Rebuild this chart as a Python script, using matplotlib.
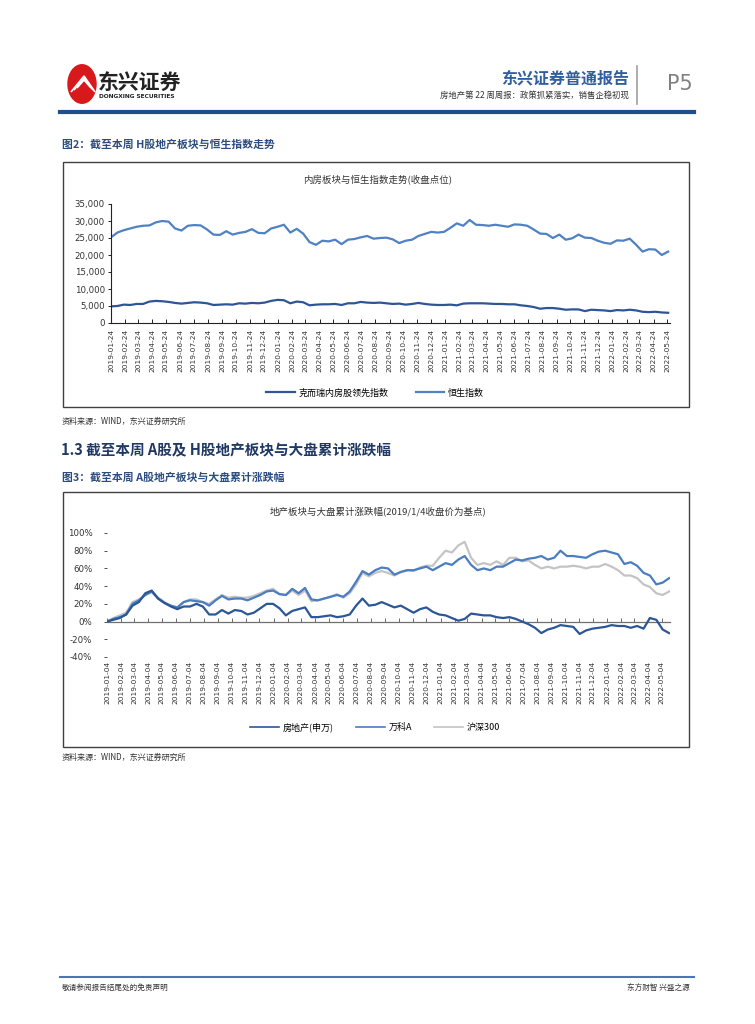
import matplotlib
matplotlib.use('Agg')
import matplotlib.pyplot as plt
import pandas as pd
import numpy as np
from matplotlib.patches import Rectangle, Circle, Polygon
from matplotlib.lines import Line2D

plt.rcParams['font.family'] = ['Noto Sans CJK SC', 'DejaVu Sans']
plt.rcParams['axes.unicode_minus'] = False

# ---------------- data ----------------
# Chart 1: biweekly closing levels from 2019-01-24
hsi = [25200, 26600, 27300, 27800, 28300, 28600, 28700, 29600, 30000, 29800,
       27800, 27200, 28600, 28800, 28700, 27500, 26000, 25900, 27000, 26000,
       26500, 26800, 27600, 26500, 26400, 27800, 28300, 28900, 26600, 27700,
       26300, 23800, 23000, 24200, 24000, 24500, 23200, 24500, 24700, 25200,
       25600, 24800, 25000, 25100, 24600, 23500, 24200, 24500, 25600, 26200,
       26800, 26600, 26800, 28000, 29300, 28600, 30300, 28900, 28800, 28600,
       28900, 28600, 28300, 29000, 28900, 28600, 27500, 26300, 26200, 25000,
       26000, 24500, 24900, 26000, 25100, 25000, 24200, 23600, 23300, 24300,
       24200, 24800, 23000, 21000, 21700, 21600, 20000, 21000]
cric = [4900, 5000, 5400, 5300, 5600, 5600, 6300, 6500, 6400, 6200,
        5900, 5700, 5900, 6100, 6000, 5800, 5300, 5400, 5500, 5400,
        5800, 5700, 5900, 5800, 6000, 6500, 6800, 6700, 5800, 6300,
        6100, 5200, 5400, 5500, 5500, 5600, 5300, 5800, 5800, 6200,
        6000, 5900, 6000, 5800, 5600, 5700, 5400, 5600, 5900, 5600,
        5400, 5300, 5300, 5400, 5200, 5700, 5800, 5800, 5800, 5700,
        5600, 5600, 5500, 5500, 5200, 5000, 4700, 4200, 4400, 4400,
        4200, 3900, 4000, 4000, 3500, 3900, 3800, 3700, 3500, 3800,
        3700, 3900, 3700, 3300, 3200, 3300, 3100, 3000]
c1_dates = pd.date_range('2019-01-24', periods=len(hsi), freq='14D')
c1_ticks = pd.date_range('2019-01-01', '2022-05-01', freq='MS') + pd.Timedelta(days=23)
c1_labels = [d.strftime('%Y-%m-%d') for d in c1_ticks]
c1_names = ['克而瑞内房股领先指数', '恒生指数']

# Chart 2: cumulative change (%) vs 2019-01-04 close, biweekly
prop = [0, 2, 4, 8, 18, 22, 32, 35, 26, 21, 17, 14, 17, 17, 20, 17, 8, 8, 13, 9,
        13, 12, 8, 10, 15, 20, 20, 15, 7, 12, 14, 16, 5, 5, 6, 7, 5, 6, 8, 18,
        26, 18, 19, 22, 19, 16, 18, 14, 10, 14, 16, 11, 8, 7, 4, 1, 3, 9, 8, 7,
        7, 5, 4, 5, 3, 0, -3, -7, -13, -9, -7, -4, -5, -6, -14, -10, -8, -7, -6, -4,
        -5, -5, -7, -5, -8, 4, 2, -9, -13]
vanke = [0, 3, 5, 8, 20, 24, 30, 34, 26, 21, 18, 16, 22, 24, 23, 22, 18, 24, 29, 25,
         26, 26, 24, 27, 30, 34, 35, 31, 30, 37, 32, 38, 25, 24, 26, 28, 30, 28, 34, 45,
         57, 53, 58, 61, 60, 53, 56, 58, 58, 60, 62, 58, 62, 66, 64, 70, 74, 64, 58, 60,
         58, 62, 62, 66, 70, 69, 71, 72, 74, 70, 72, 80, 74, 74, 73, 72, 76, 79, 80, 78,
         76, 65, 67, 63, 55, 52, 42, 44, 49]
hs300 = [0, 4, 7, 10, 22, 25, 30, 33, 27, 22, 18, 15, 22, 25, 25, 22, 20, 25, 30, 27,
         28, 27, 27, 29, 32, 35, 37, 31, 30, 35, 30, 35, 23, 24, 26, 28, 31, 27, 32, 42,
         55, 51, 55, 57, 55, 52, 56, 58, 57, 61, 63, 63, 72, 80, 78, 86, 90, 72, 64, 66,
         64, 68, 64, 72, 72, 68, 69, 64, 60, 62, 60, 62, 62, 63, 62, 60, 62, 62, 65, 62,
         58, 52, 52, 49, 42, 39, 32, 30, 34]
c2_dates = pd.date_range('2019-01-04', periods=len(prop), freq='14D')
c2_ticks = pd.date_range('2019-01-01', '2022-05-01', freq='MS') + pd.Timedelta(days=3)
c2_labels = [d.strftime('%Y-%m-%d') for d in c2_ticks]
c2_names = ['房地产(申万)', '万科A', '沪深300']

# ---------------- layout helpers ----------------
W, H = 755, 1024
fig = plt.figure(figsize=(7.55, 10.24), dpi=100)


def fx(x):
    return x / W


def fy(y):
    return 1 - y / H


def rect(l, t, r, b):
    return [fx(l), fy(b), (r - l) / W, (b - t) / H]


NAVY = '#2B4C7E'

# ---------------- header ----------------
fig.patches.append(Circle((fx(82), fy(84)), 0.0195, transform=fig.transFigure,
                          facecolor='#D7191C', edgecolor='none'))
for k in range(3):
    fig.patches.append(Polygon([(fx(71 + 3 * k), fy(92 - 2 * k)), (fx(84), fy(76 + k * 2)),
                                (fx(95 - 2 * k), fy(92 - 2 * k))], closed=False, fill=False,
                               edgecolor='white', linewidth=1.2, transform=fig.transFigure))
fig.text(fx(98), fy(82), '东兴证券', fontsize=15, fontweight='bold', color='#222222',
         va='center', ha='left')
fig.text(fx(99), fy(96), 'DONGXING SECURITIES', fontsize=4.2, fontweight='bold',
         color='#222222', va='center', ha='left', family='DejaVu Sans')
fig.text(fx(629), fy(78), '东兴证券普通报告', fontsize=11.5, fontweight='bold',
         color='#2F5F9E', va='center', ha='right')
fig.text(fx(629), fy(95), '房地产第 22 周周报：政策抓紧落实，销售企稳初现', fontsize=6,
         color='#333333', va='center', ha='right')
fig.lines.append(Line2D([fx(637), fx(637)], [fy(66), fy(104)], transform=fig.transFigure,
                        color='#A0A0A0', linewidth=1.2))
fig.text(fx(680), fy(84), 'P5', fontsize=15, color='#808080', va='center', ha='center',
         family='DejaVu Sans')
fig.lines.append(Line2D([fx(60), fx(694)], [fy(112), fy(112)], transform=fig.transFigure,
                        color='#1F4E8C', linewidth=3))

# ---------------- captions ----------------
fig.text(fx(62), fy(145), '图2：截至本周 H股地产板块与恒生指数走势', fontsize=7.8,
         fontweight='bold', color=NAVY, va='center', ha='left')
fig.text(fx(62), fy(421), '资料来源：WIND，东兴证券研究所', fontsize=5.8, style='italic',
         color='#333333', va='center', ha='left')
fig.text(fx(61), fy(450), '1.3 截至本周 A股及 H股地产板块与大盘累计涨跌幅', fontsize=10.5,
         fontweight='bold', color='#1F3864', va='center', ha='left')
fig.text(fx(62), fy(478), '图3：截至本周 A股地产板块与大盘累计涨跌幅', fontsize=7.8,
         fontweight='bold', color=NAVY, va='center', ha='left')
fig.text(fx(62), fy(757), '资料来源：WIND，东兴证券研究所', fontsize=5.8, style='italic',
         color='#333333', va='center', ha='left')

# ---------------- chart boxes ----------------
for (l, t, r, b) in [(63, 162, 689, 407), (63, 492, 689, 747)]:
    fig.patches.append(Rectangle((fx(l), fy(b)), (r - l) / W, (b - t) / H,
                                 transform=fig.transFigure, fill=False,
                                 edgecolor='#404040', linewidth=1.0))

# ---------------- chart 1 ----------------
ax1 = fig.add_axes(rect(111, 204, 670, 323))
ax1.plot(c1_dates, cric, color='#2F5597', linewidth=1.6, label=c1_names[0])
ax1.plot(c1_dates, hsi, color='#4F81C4', linewidth=1.6, label=c1_names[1])
ax1.set_ylim(0, 35000)
ax1.set_yticks(np.arange(0, 35001, 5000))
ax1.set_yticklabels([f'{v:,}' for v in range(0, 35001, 5000)], fontsize=6.2,
                    family='DejaVu Sans', color='#333333')
ax1.set_xlim(c1_dates[0], c1_dates[-1] + pd.Timedelta(days=4))
ax1.set_xticks(c1_ticks)
ax1.set_xticklabels(c1_labels, rotation=90, fontsize=5.3, family='DejaVu Sans',
                    color='#333333')
ax1.tick_params(axis='x', direction='in', length=3, width=0.6, pad=4)
ax1.tick_params(axis='y', direction='out', length=2.5, width=0.6, pad=2)
for s in ['top', 'right']:
    ax1.spines[s].set_visible(False)
for s in ['left', 'bottom']:
    ax1.spines[s].set_linewidth(0.8)
    ax1.spines[s].set_color('#222222')
fig.text(fx(378), fy(180), '内房板块与恒生指数走势(收盘点位)', fontsize=6.8,
         color='#333333', va='center', ha='center')
fig.legend(handles=ax1.get_lines(), labels=c1_names, loc='center', ncol=2,
           bbox_to_anchor=(fx(375), fy(393)), frameon=False, fontsize=6.5,
           handlelength=3.2, columnspacing=3, handletextpad=0.4)

# ---------------- chart 2 ----------------
ax2 = fig.add_axes(rect(107, 533, 670, 657))
ax2.plot(c2_dates, hs300, color='#C4C4C4', linewidth=1.6, zorder=2)
ax2.plot(c2_dates, vanke, color='#4A7DC2', linewidth=1.6, zorder=3)
ax2.plot(c2_dates, prop, color='#2B5797', linewidth=1.6, zorder=4)
ax2.set_ylim(-40, 100)
ax2.set_yticks(np.arange(-40, 101, 20))
ax2.set_yticklabels([f'{v}%' for v in range(-40, 101, 20)], fontsize=6.2,
                    family='DejaVu Sans', color='#333333')
ax2.set_xlim(c2_dates[0], c2_dates[-1] + pd.Timedelta(days=2))
ax2.set_xticks(c2_ticks)
ax2.set_xticklabels(c2_labels, rotation=90, fontsize=5.3, family='DejaVu Sans',
                    color='#333333')
ax2.tick_params(axis='x', length=0, pad=3)
ax2.tick_params(axis='y', direction='out', length=2.5, width=0.6, pad=8, color='#333333')
for s in ['top', 'right', 'left', 'bottom']:
    ax2.spines[s].set_visible(False)
sec = ax2.secondary_xaxis(40 / 140)
sec.set_xticks(c2_ticks)
sec.set_xticklabels([])
sec.tick_params(axis='x', direction='in', length=3, width=0.6, color='#555555')
sec.spines['bottom'].set_color('#707070')
sec.spines['bottom'].set_linewidth(0.9)
sec.spines['top'].set_visible(False)
fig.text(fx(378), fy(511), '地产板块与大盘累计涨跌幅(2019/1/4收盘价为基点)', fontsize=6.8,
         color='#333333', va='center', ha='center')
h2 = [Line2D([], [], color='#2B5797', linewidth=1.2),
      Line2D([], [], color='#4A7DC2', linewidth=1.2),
      Line2D([], [], color='#C4C4C4', linewidth=1.2)]
fig.legend(handles=h2, labels=c2_names, loc='center', ncol=3,
           bbox_to_anchor=(fx(375), fy(727)), frameon=False, fontsize=6.5,
           handlelength=3.2, columnspacing=2.5, handletextpad=0.4)

# ---------------- footer ----------------
fig.lines.append(Line2D([fx(60), fx(694)], [fy(977), fy(977)], transform=fig.transFigure,
                        color='#4A76B8', linewidth=1.5))
fig.text(fx(62), fy(988), '敬请参阅报告结尾处的免责声明', fontsize=5.5, color='#333333',
         va='center', ha='left')
fig.text(fx(690), fy(988), '东方财智 兴盛之源', fontsize=5.5, color='#333333',
         va='center', ha='right')

fig.savefig('out.png', dpi=100)
